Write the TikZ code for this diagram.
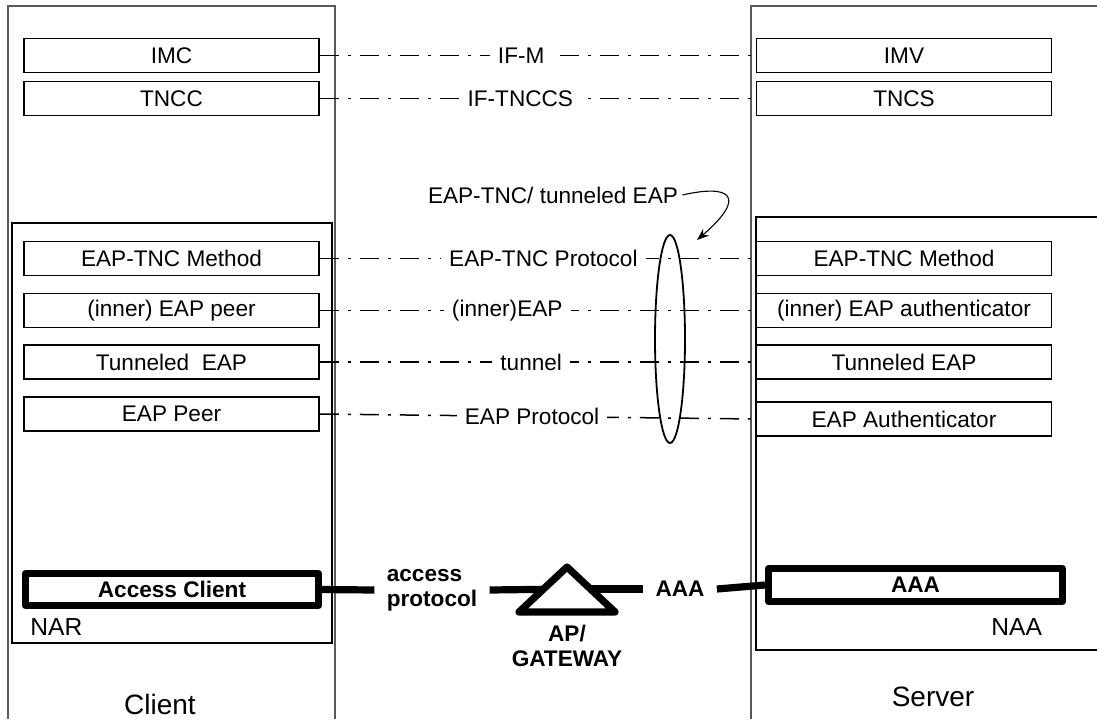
\documentclass[tikz,border=0pt]{standalone}
\usepackage{fontspec}
\setmainfont{Liberation Sans}
\usetikzlibrary{arrows.meta}
\usetikzlibrary{shapes.geometric}
\tikzstyle{frame}=[draw=black!65, line width=0.55pt]
\tikzstyle{layer box}=[draw, line width=0.8pt, minimum width=147.5pt, minimum height=17pt, inner sep=0pt, font=\fontsize{11.3}{13.6}\selectfont]
\tikzstyle{access box}=[draw, line width=3.6pt, line join=round, minimum height=16pt, inner sep=0pt, font=\bfseries\fontsize{11.3}{13.6}\selectfont]
\tikzstyle{interface}=[line width=0.75pt, dash pattern=on 9.5pt off 4.5pt on 1.5pt off 4.5pt]
\tikzstyle{interface label}=[fill=white, inner sep=4pt, font=\fontsize{11.3}{13.6}\selectfont]
\tikzstyle{link}=[line width=3.6pt]
\tikzstyle{link label}=[inner sep=6pt, align=left, font=\bfseries\fontsize{11.3}{12.5}\selectfont]
\tikzstyle{side label}=[inner sep=0pt, font=\fontsize{12.3}{14}\selectfont]
\tikzstyle{host label}=[inner sep=0pt, font=\fontsize{14}{16}\selectfont]

\begin{document}
\begin{tikzpicture}[x=0.5pt, y=-0.5pt]
      \useasboundingbox (0,0) rectangle (1097,719);
      \draw[frame] (8,719) -- (8,6) -- (335,6) -- (335,719);
      \draw[frame] (751,719) -- (751,6) -- (1097,6);
      \draw[line width=0.8pt] (12,223) rectangle (332,643);
      \draw[line width=0.8pt] (1097,217) -- (756,217) -- (756,650) -- (1097,650);

      \node[layer box] (imc) at (171.5,55.5) {IMC};
      \node[layer box] (tncc) at (171.5,98.5) {TNCC};
      \node[layer box] (eaptncc) at (171.5,258.5) {EAP-TNC Method};
      \node[layer box] (innerpeer) at (171.5,310.5) {(inner) EAP peer};
      \node[layer box] (tunnelc) at (171.5,362) {Tunneled\ \ EAP};
      \node[layer box] (peer) at (171.5,414) {EAP Peer};

      \node[layer box] (imv) at (904,55.5) {IMV};
      \node[layer box] (tncs) at (904,98.5) {TNCS};
      \node[layer box] (eaptncs) at (904,258.5) {EAP-TNC Method};
      \node[layer box] (innerauth) at (904,310.5) {(inner) EAP authenticator};
      \node[layer box] (tunnels) at (904,362) {Tunneled EAP};
      \node[layer box] (auth) at (904,419) {EAP Authenticator};

      \draw[interface] (imc.east) -- node[interface label, pos=0.462] {IF-M} (imv.west);
      \draw[interface] (tncc.east) -- node[interface label, pos=0.46] {IF-TNCCS} (tncs.west);
      \draw[interface] (eaptncc.east) -- node[interface label, pos=0.513] {EAP-TNC Protocol} (eaptncs.west);
      \draw[interface] (innerpeer.east) -- node[interface label, pos=0.43] {(inner)EAP} (innerauth.west);
      \draw[interface] (tunnelc.east) -- node[interface label, pos=0.485] {tunnel} (tunnels.west);
      \draw[interface] (peer.east) -- node[interface label, pos=0.487] {EAP Protocol} (auth.west);

      \node[draw, ellipse, line width=0.9pt, minimum width=15pt, minimum height=104pt, inner sep=0pt] (bundle) at (670,339) {};
      \node[font=\fontsize{11.3}{13.6}\selectfont, inner sep=2pt] (bundlelbl) at (553,195) {EAP-TNC/ tunneled EAP};
      \coordinate (bundletip) at (697,240);
      \draw[line width=0.55pt, -{Stealth[length=6pt, width=4.5pt]}] (bundlelbl.east) .. controls (730,184) and (748,196) .. (bundletip);

      \node[access box, minimum width=146.5pt] (client) at (172,589.5) {Access Client};
      \node[access box, minimum width=147pt, minimum height=16.5pt] (aaa) at (915.5,585) {AAA};
      \node[link label] (accesslbl) at (432,590) {access\\protocol};
      \node[link label] (aaalbl) at (680,589) {AAA};
      \coordinate (gw) at (567,589);
      \draw[link] (client.east) -- (accesslbl.west);
      \draw[link] (accesslbl.east) -- (gw);
      \draw[link] (gw) -- (aaalbl.west);
      \draw[link] (aaalbl.east) -- (aaa.west);
      \draw[link, fill=white, line join=round] (519,612) -- (567,567) -- (615,612) -- cycle;
      \node[link label, align=center, inner sep=0pt] (gwlbl) at (567,646) {AP/\\GATEWAY};

      \node[side label, anchor=west] (nar) at (30,627) {NAR};
      \node[side label, anchor=west] (naa) at (991,627) {NAA};
      \node[host label] (clientlbl) at (160,704) {Client};
      \node[host label] (serverlbl) at (933,697) {Server};
    \end{tikzpicture}
\end{document}
